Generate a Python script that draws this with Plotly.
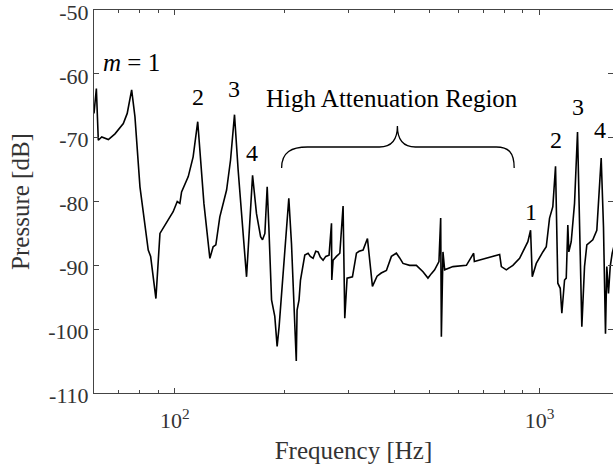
import numpy as np
import plotly.graph_objects as go

# Frequency response (Hz, dB)
freq = [60.0, 60.9, 61.65, 63.0, 65.7, 68.5, 72.2, 74.0, 76.1, 77.7, 80.2, 82.8, 84.5, 85.8,
        88.7, 91.0, 94.9, 98.9, 101.5, 103.2, 104.3, 108.8, 112.2, 115.5, 120.1, 124.7, 127.3,
        129.5, 132.8, 138.6, 142.1, 145.7, 149.1, 157.2, 163.3, 167.4, 171.8, 173.9, 176.5,
        179.1, 181.0, 184.1, 187.9, 190.7, 193.1, 198.0, 205.3, 208.8, 213.2, 215.2, 216.3,
        219.0, 221.0, 224.7, 227.1, 231.9, 235.1, 239.3, 243.4, 247.0, 250.4, 254.9, 259.3,
        264.7, 268.8, 269.3, 271.5, 277.3, 283.3, 289.2, 292.3, 296.6, 306.8, 314.7, 320.0,
        328.1, 337.3, 348.1, 358.4, 368.0, 380.2, 392.4, 404.9, 413.0, 422.2, 440.4, 459.4,
        479.0, 494.3, 505.0, 515.6, 529.8, 535.6, 537.9, 543.4, 549.2, 578.7, 630.0, 659.6,
        662.5, 714.5, 777.2, 785.6, 810.7, 845.0, 881.6, 928.8, 944.8, 955.0, 979.5, 1020.9,
        1043.2, 1065.1, 1087.4, 1106.1, 1122.2, 1139.5, 1151.1, 1170.9, 1183.6, 1195.4, 1203.1,
        1221.3, 1247.1, 1270.9, 1287.1, 1305.9, 1328.3, 1347.8, 1399.6, 1435.5, 1475.7, 1497.3,
        1516.4, 1529.0, 1545.3, 1562.1, 1582.0, 1600.0]
pressure = [-66.2, -62.3, -70.4, -69.9, -70.3, -69.4, -67.8, -66.2, -62.5, -66.7, -77.7, -84.0,
            -87.6, -88.6, -95.2, -85.0, -83.2, -81.6, -80.0, -80.3, -78.5, -76.1, -73.0, -67.5,
            -80.3, -88.9, -87.1, -86.8, -82.4, -78.2, -73.5, -66.4, -75.1, -91.8, -75.9, -81.9,
            -85.5, -86.0, -85.0, -77.7, -84.0, -95.4, -98.0, -102.7, -99.6, -91.8, -79.5, -86.6,
            -98.6, -105.0, -97.0, -95.4, -92.3, -89.7, -88.4, -88.1, -88.6, -88.9, -87.8, -87.9,
            -88.7, -89.2, -88.6, -88.4, -83.4, -92.3, -89.2, -88.6, -88.1, -80.7, -98.3, -92.0,
            -91.8, -88.1, -87.8, -87.6, -85.8, -93.3, -91.7, -91.2, -90.8, -88.6, -88.1, -88.8,
            -89.7, -90.0, -90.0, -91.0, -92.0, -91.3, -90.7, -89.4, -82.6, -101.2, -87.9, -90.7,
            -90.2, -90.0, -88.1, -89.4, -88.9, -88.3, -90.2, -90.7, -90.0, -88.9, -86.3, -84.5,
            -91.8, -89.7, -87.9, -87.1, -82.6, -80.8, -74.5, -92.8, -93.6, -97.5, -92.3, -92.0,
            -83.7, -87.9, -86.3, -80.3, -69.1, -84.0, -99.6, -90.2, -86.8, -86.0, -84.5, -73.2,
            -84.0, -100.7, -90.2, -94.4, -90.2, -88.1, -87.0]

y_ticks = [-110, -100, -90, -80, -70, -60, -50]
y_ticktext = ["-110", "-100", "-90", "-80", "-70", "-60", "-50"]
x_ticks = [100, 1000]
x_ticktext = ["10<sup>2</sup>", "10<sup>3</sup>"]
x_minor = [70, 80, 90, 200, 300, 400, 500, 600, 700, 800, 900]

FONT = "Liberation Serif"
AXC = "#444444"
F_TXT = dict(family=FONT, size=25, color="black")
F_NUM = dict(family=FONT, size=24, color="black")
F_TICK = dict(family=FONT, size=22, color="#333333")
F_TITLE = dict(family=FONT, size=25, color="#333333")

fig = go.Figure()
fig.add_trace(go.Scatter(x=freq, y=pressure, mode="lines",
                         line=dict(color="black", width=1.6), showlegend=False))
fig.add_trace(go.Scatter(x=freq, y=pressure, mode="lines", yaxis="y2",
                         line=dict(color="rgba(0,0,0,0)", width=0), showlegend=False,
                         hoverinfo="skip"))

fig.update_layout(
    template="none",
    width=613, height=468,
    margin=dict(l=94, r=0, t=10, b=75),
    paper_bgcolor="white", plot_bgcolor="white",
    font=F_TICK,
    xaxis=dict(type="log", range=[np.log10(60), np.log10(1590)],
               tickvals=x_ticks, ticktext=x_ticktext, ticks="inside", ticklen=5,
               tickcolor=AXC, showline=True, linecolor=AXC, linewidth=1, mirror="ticks",
               showgrid=False, zeroline=False, tickfont=F_TICK, ticklabelstandoff=8,
               minor=dict(ticks="inside", ticklen=3, tickcolor=AXC, tickvals=x_minor,
                          showgrid=False),
               title=dict(text="Frequency [Hz]", standoff=9, font=F_TITLE)),
    yaxis=dict(range=[-110, -50], tickvals=y_ticks, ticktext=y_ticktext,
               ticks="inside", ticklen=5, tickcolor=AXC, showline=True, linecolor=AXC,
               linewidth=1, mirror=False, showgrid=False, zeroline=False,
               ticklabeloverflow="allow", tickfont=F_TICK, ticklabelshift=2,
               title=dict(text="Pressure [dB]", standoff=11, font=F_TITLE)),
    yaxis2=dict(overlaying="y", side="right", range=[-110, -50], tickvals=y_ticks,
                ticks="inside", ticklen=5, tickcolor=AXC, showticklabels=False,
                showline=False, showgrid=False, zeroline=False),
)

# brace over the high-attenuation region (paper coordinates)
brace = ("M 0.3615 0.5875 C 0.3615 0.6292 0.3808 0.6423 0.4115 0.6423 "
         "L 0.55 0.6423 C 0.5731 0.6423 0.5846 0.6606 0.5846 0.6971 "
         "C 0.5846 0.6606 0.5962 0.6423 0.6192 0.6423 "
         "L 0.775 0.6423 C 0.7981 0.6423 0.8096 0.6292 0.8096 0.5875")
fig.add_shape(type="path", path=brace, xref="paper", yref="paper",
              line=dict(color="black", width=1.3))

labels = [
    (1.881, -58.3, "<i>m</i> = 1", F_TXT),
    (2.063, -63.6, "2", F_NUM),
    (2.1616, -62.4, "3", F_NUM),
    (2.211, -72.4, "4", F_NUM),
    (2.5945, -63.8, "High Attenuation Region", F_TXT),
    (2.9767, -81.6, "1", F_NUM),
    (3.0452, -70.4, "2", F_NUM),
    (3.1041, -65.15, "3", F_NUM),
    (3.1671, -68.8, "4", F_NUM),
]
for lx, ly, txt, fnt in labels:
    fig.add_annotation(x=lx, y=ly, xref="x", yref="y", text=txt, showarrow=False,
                       font=fnt, xanchor="center", yanchor="middle")

fig.write_html("out.html")
